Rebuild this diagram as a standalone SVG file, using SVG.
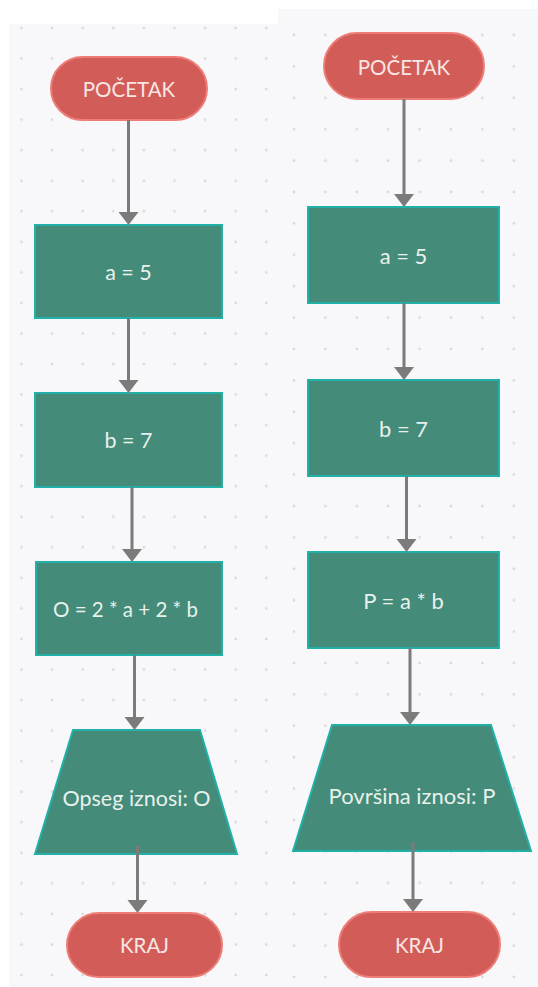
<svg xmlns="http://www.w3.org/2000/svg" width="538" height="987" viewBox="0 0 538 987">
<style>
.term{fill:#d25d58;stroke:#ee7d78;stroke-width:2}
.proc{fill:#448b79;stroke:#22b1a9;stroke-width:2}
.tt{fill:#f7e6e4;font-family:Lato,"Open Sans",sans-serif;text-anchor:middle;dominant-baseline:central;font-size:20.5px}
.pt{fill:#e8f1ec;font-family:Lato,"Open Sans",sans-serif;text-anchor:middle;dominant-baseline:central}
.l{font-size:21.5px}
.r{font-size:22px}
.c{stroke:#7b7b7b;stroke-width:3;fill:none;marker-end:url(#ah)}
</style>
<defs>
<pattern id="dl" x="21.5" y="28" width="30.6" height="30.55" patternUnits="userSpaceOnUse">
<circle cx="0" cy="0" r="1.4" fill="#dadade"/><circle cx="30.6" cy="0" r="1.4" fill="#dadade"/><circle cx="0" cy="30.55" r="1.4" fill="#dadade"/><circle cx="30.6" cy="30.55" r="1.4" fill="#dadade"/>
</pattern>
<pattern id="dr" x="294" y="35" width="31.4" height="31.4" patternUnits="userSpaceOnUse">
<circle cx="0" cy="0" r="1.4" fill="#dadade"/><circle cx="31.4" cy="0" r="1.4" fill="#dadade"/><circle cx="0" cy="31.4" r="1.4" fill="#dadade"/><circle cx="31.4" cy="31.4" r="1.4" fill="#dadade"/>
</pattern>
<marker id="ah" markerUnits="userSpaceOnUse" markerWidth="22" markerHeight="22" viewBox="0 0 14 22" refX="8" refY="10.5" orient="auto">
<path d="M0,0.5 L13,10.5 L0,20.5 z" fill="#7b7b7b"/>
</marker>
</defs>
<rect width="538" height="987" fill="#ffffff"/>
<rect x="9" y="24" width="269" height="963" fill="#f8f8fa"/>
<rect x="9" y="24" width="269" height="963" fill="url(#dl)"/>
<rect x="278" y="9" width="260" height="978" fill="#f8f8fa"/>
<rect x="278" y="9" width="260" height="978" fill="url(#dr)"/>

<g id="L_start"><rect class="term" x="51" y="57" width="156" height="63" rx="31.5"/><text class="tt" x="129" y="88.5">POČETAK</text></g>
<g id="L_a"><rect class="proc" x="35" y="225" width="187" height="93"/><text class="pt l" x="128.5" y="271.5">a = 5</text></g>
<g id="L_b"><rect class="proc" x="35" y="393" width="187" height="94"/><text class="pt l" x="128.5" y="440">b = 7</text></g>
<g id="L_o"><rect class="proc" x="36" y="562" width="186" height="93"/><text class="pt" font-size="20.5" x="125.5" y="608.5">O = 2 * a + 2 * b</text></g>
<g id="L_out"><polygon class="proc" points="73,730 200,730 237,854 35,854"/><text class="pt l" x="136.5" y="798">Opseg iznosi: O</text></g>
<g id="L_end"><rect class="term" x="67" y="913" width="155" height="64" rx="32"/><text class="tt" x="144.5" y="945">KRAJ</text></g>

<g id="R_start"><rect class="term" x="324" y="33" width="160" height="66" rx="33"/><text class="tt" x="404" y="66.5">POČETAK</text></g>
<g id="R_a"><rect class="proc" x="308" y="207" width="191" height="96"/><text class="pt r" x="403.5" y="255">a = 5</text></g>
<g id="R_b"><rect class="proc" x="308" y="380" width="191" height="96"/><text class="pt r" x="403.5" y="428">b = 7</text></g>
<g id="R_p"><rect class="proc" x="308" y="552" width="191" height="96"/><text class="pt r" x="403.5" y="600">P = a * b</text></g>
<g id="R_out"><polygon class="proc" points="332,725 491,725 531,851 293,851"/><text class="pt r" x="412" y="795">Površina iznosi: P</text></g>
<g id="R_end"><rect class="term" x="339" y="912" width="161" height="65" rx="32.5"/><text class="tt" x="419.5" y="944.5">KRAJ</text></g>

<g id="connectors">
<path class="c" d="M128.5,120 V220"/>
<path class="c" d="M128.5,318 V388"/>
<path class="c" d="M132,487 V557"/>
<path class="c" d="M134.5,655 V725"/>
<path class="c" d="M137.5,846 V908"/>
<path class="c" d="M404,99 V202"/>
<path class="c" d="M404,303 V375"/>
<path class="c" d="M406.5,476 V547"/>
<path class="c" d="M410,648 V720"/>
<path class="c" d="M413,842 V907"/>
</g>
</svg>
